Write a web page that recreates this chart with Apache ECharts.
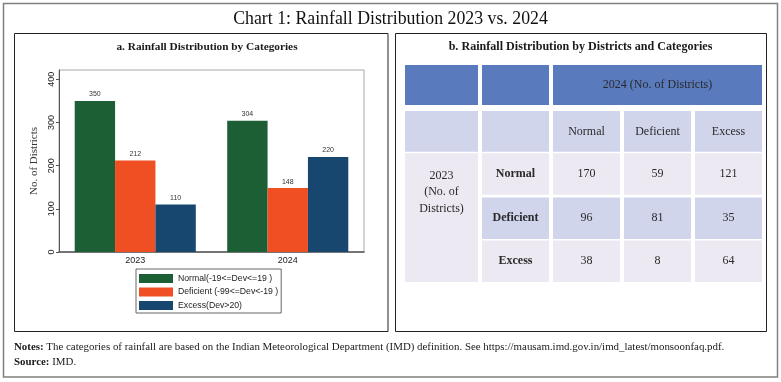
<!DOCTYPE html>
<html>
<head>
<meta charset="utf-8">
<script src="https://cdn.jsdelivr.net/npm/echarts@6/dist/echarts.min.js"></script>
<style>
html,body{margin:0;padding:0;background:#fff;}
#chart{width:781px;height:382px;}
</style>
</head>
<body>
<div id="chart"></div>
<script>
// ---- data ----
const categories = ['2023', '2024'];
const normalVals = [350, 304];
const deficientVals = [212, 148];
const excessVals = [110, 220];
const seriesNames = ['Normal(-19<=Dev<=19 )', 'Deficient (-99<=Dev<-19 )', 'Excess(Dev>20)'];
const yTickValues = [0, 100, 200, 300, 400];

const tableTopHeader = '2024 (No. of Districts)';
const tableSideHeader = '2023\n(No. of\nDistricts)';
const tableColHeads = ['Normal', 'Deficient', 'Excess'];
const tableRowHeads = ['Normal', 'Deficient', 'Excess'];
const tableValues = [
  [170, 59, 121],
  [96, 81, 35],
  [38, 8, 64]
];

const titleText = 'Chart 1: Rainfall Distribution 2023 vs. 2024';
const subTitleA = 'a. Rainfall Distribution by Categories';
const subTitleB = 'b. Rainfall Distribution by Districts and Categories';
const notesText = 'The categories of rainfall are based on the Indian Meteorological Department (IMD) definition. See https://mausam.imd.gov.in/imd_latest/monsoonfaq.pdf.';
const sourceText = 'IMD.';

// ---- styles ----
const SERIF = '"Liberation Serif", "DejaVu Serif", serif';
const SANS = '"Liberation Sans", Arial, sans-serif';
const barColors = ['#1c5f35', '#f04e23', '#17466e'];
const headerBlue = '#5a7abe';
const lightBlue = '#d0d5ec';
const lavender = '#ede9f2';

// ---- build table cells: [col, row, colSpan, rowSpan, text, kind] ----
const tableCells = [];
tableCells.push([0, 0, 1, 1, '', 'head']);
tableCells.push([1, 0, 1, 1, '', 'head']);
tableCells.push([2, 0, 3, 1, tableTopHeader, 'head']);
tableCells.push([0, 1, 1, 1, '', 'sub']);
tableCells.push([1, 1, 1, 1, '', 'sub']);
tableColHeads.forEach((h, i) => tableCells.push([2 + i, 1, 1, 1, h, 'sub']));
tableCells.push([0, 2, 1, 3, tableSideHeader, 'side']);
tableRowHeads.forEach((h, r) => {
  const kind = r === 1 ? 'rowB' : 'rowA';
  tableCells.push([1, 2 + r, 1, 1, h, kind + 'Bold']);
  tableValues[r].forEach((v, c) => tableCells.push([2 + c, 2 + r, 1, 1, String(v), kind]));
});

// column edge tweaks (first column wider than the others)
const colLeftAdj = [0, 5.2, 4.4, 3.6, 2.8];
const colRightAdj = [3.2, 2.4, 1.6, 0.8, 0];
const rowTopAdj = [0, 2.4, 1, 1.6, 1];
const rowBotAdj = [3.6, 0.4, 1, 0.4, 1];

function renderCell(params, api) {
  const col = api.value(0), row = api.value(1);
  const cs = api.value(2), rs = api.value(3);
  const d = tableCells[params.dataIndex];
  const text = d[4], kind = d[5];
  const c = api.coord([col, row]);
  const sz = api.size([1, 1]);
  const lastCol = col + cs - 1, lastRow = row + rs - 1;
  const x0 = c[0] - sz[0] / 2 + colLeftAdj[col];
  const x1 = c[0] - sz[0] / 2 + sz[0] * cs - 2 + colRightAdj[lastCol];
  const y0 = c[1] - sz[1] / 2 + rowTopAdj[row];
  const y1 = c[1] - sz[1] / 2 + sz[1] * rs - rowBotAdj[lastRow];
  let fill = lavender;
  if (kind === 'head') fill = headerBlue;
  else if (kind === 'sub' || kind.indexOf('rowB') === 0) fill = lightBlue;
  const bold = kind.indexOf('Bold') > 0;
  let ty = (y0 + y1) / 2;
  let lh = 14;
  if (kind === 'side') { ty = y0 + 39; lh = 16.5; }
  return {
    type: 'group',
    children: [
      { type: 'rect', shape: { x: x0, y: y0, width: x1 - x0, height: y1 - y0 }, style: { fill: fill } },
      { type: 'text', x: (x0 + x1) / 2, y: ty,
        style: { text: text, fill: '#2a2a2a', font: (bold ? 'bold ' : '') + '12px ' + SERIF,
                 align: 'center', verticalAlign: 'middle', lineHeight: lh } }
    ]
  };
}

const chart = echarts.init(document.getElementById('chart'), null, { renderer: 'canvas' });

const barLabel = { show: true, position: 'top', distance: 3, fontSize: 7, fontFamily: SANS, color: '#333' };

const option = {
  backgroundColor: '#fff',
  animation: false,
  grid: [
    { left: 59, top: 70, width: 305, height: 182, show: true, borderColor: '#a8a8a8', borderWidth: 1, backgroundColor: 'transparent' },
    { left: 405, top: 65, width: 359, height: 218, show: false }
  ],
  legend: {
    data: seriesNames,
    orient: 'vertical',
    left: 136, top: 269,
    itemWidth: 34, itemHeight: 9, itemGap: 4.5, itemTextGap: 5,
    padding: [5, 3, 3, 3],
    borderColor: '#666', borderWidth: 1, borderRadius: 0,
    backgroundColor: '#fff',
    selectedMode: false,
    textStyle: { fontSize: 8.7, fontFamily: SANS, color: '#222' },
    icon: 'rect'
  },
  xAxis: [
    { type: 'category', gridIndex: 0, data: categories,
      axisLine: { show: true, lineStyle: { color: '#555', width: 1.5 } },
      axisTick: { show: false },
      axisLabel: { fontSize: 9, fontFamily: SANS, color: '#222', margin: 4 } },
    { type: 'category', gridIndex: 1, data: [0, 1, 2, 3, 4], show: false }
  ],
  yAxis: [
    { type: 'value', gridIndex: 0, min: 0, max: 421.6,
      name: 'No. of Districts', nameLocation: 'middle', nameRotate: 90, nameGap: 19,
      nameTextStyle: { fontSize: 11, fontFamily: SERIF, color: '#333' },
      axisLine: { show: true, lineStyle: { color: '#555', width: 1 } },
      axisTick: { show: true, length: 3, lineStyle: { color: '#555' }, customValues: yTickValues },
      axisLabel: { rotate: 90, fontSize: 9, fontFamily: SANS, color: '#222', margin: 3, customValues: yTickValues },
      splitLine: { show: false } },
    { type: 'category', gridIndex: 1, data: [0, 1, 2, 3, 4], inverse: true, show: false }
  ],
  series: [
    { name: seriesNames[0], type: 'bar', xAxisIndex: 0, yAxisIndex: 0, data: normalVals,
      itemStyle: { color: barColors[0] }, barGap: '0%', barCategoryGap: '20.6%', label: barLabel },
    { name: seriesNames[1], type: 'bar', xAxisIndex: 0, yAxisIndex: 0, data: deficientVals,
      itemStyle: { color: barColors[1] }, barGap: '0%', barCategoryGap: '20.6%', label: barLabel },
    { name: seriesNames[2], type: 'bar', xAxisIndex: 0, yAxisIndex: 0, data: excessVals,
      itemStyle: { color: barColors[2] }, barGap: '0%', barCategoryGap: '20.6%', label: barLabel },
    { type: 'custom', xAxisIndex: 1, yAxisIndex: 1, data: tableCells.map(c => [c[0], c[1], c[2], c[3]]),
      renderItem: renderCell, silent: true, clip: false }
  ],
  graphic: [
    { type: 'rect', shape: { x: 3.5, y: 3.5, width: 774, height: 373.5 }, style: { fill: 'none', stroke: '#808080', lineWidth: 1.5 }, z: 100 },
    { type: 'rect', shape: { x: 14.5, y: 33.5, width: 373.5, height: 298 }, style: { fill: 'none', stroke: '#222', lineWidth: 1 }, z: 100 },
    { type: 'rect', shape: { x: 395.5, y: 33.5, width: 371, height: 298 }, style: { fill: 'none', stroke: '#222', lineWidth: 1 }, z: 100 },
    { type: 'text', x: 390.5, y: 19, style: { text: titleText, font: '17.8px ' + SERIF, fill: '#111', align: 'center', verticalAlign: 'middle' } },
    { type: 'text', x: 207, y: 47, style: { text: subTitleA, font: 'bold 11.3px ' + SERIF, fill: '#1a1a1a', align: 'center', verticalAlign: 'middle' } },
    { type: 'text', x: 580.5, y: 47, style: { text: subTitleB, font: 'bold 12.1px ' + SERIF, fill: '#1a1a1a', align: 'center', verticalAlign: 'middle' } },
    { type: 'text', x: 14, y: 347, style: {
        text: '{b|Notes:} ' + notesText, font: '10.9px ' + SERIF, fill: '#1a1a1a', verticalAlign: 'middle',
        rich: { b: { fontWeight: 'bold', fontSize: 10.9, fontFamily: SERIF, fill: '#1a1a1a' } } } },
    { type: 'text', x: 14, y: 362, style: {
        text: '{b|Source:} ' + sourceText, font: '10.9px ' + SERIF, fill: '#1a1a1a', verticalAlign: 'middle',
        rich: { b: { fontWeight: 'bold', fontSize: 10.9, fontFamily: SERIF, fill: '#1a1a1a' } } } }
  ]
};
chart.setOption(option);
</script>
</body>
</html>
